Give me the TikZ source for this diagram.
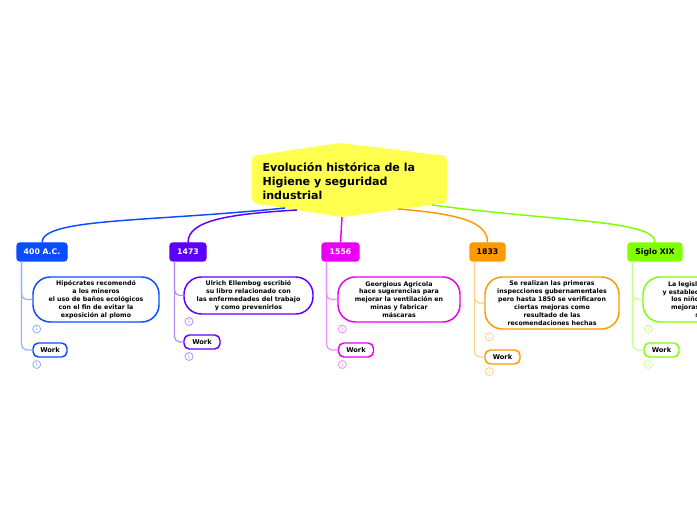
\documentclass[tikz,border=0pt]{standalone}
\usepackage{fontspec}
\setmainfont{DejaVu Sans}
\definecolor{azul}{RGB}{10,77,255}
\definecolor{violeta}{RGB}{92,0,255}
\definecolor{magenta}{RGB}{232,0,245}
\definecolor{naranja}{RGB}{255,153,0}
\definecolor{verde}{RGB}{128,255,0}
\definecolor{amarillo}{RGB}{255,255,80}

\begin{document}
\begin{tikzpicture}[x=.75pt,y=-.75pt,line width=.8pt,
  rama/.style={draw=#1,fill=#1,rounded corners=2pt,inner sep=0pt,minimum height=13.5pt,
    font=\bfseries\fontsize{5.8}{7}\selectfont},
  nota/.style={draw=#1,fill=white,line width=1.1pt,rounded corners=13pt,inner sep=0pt,
    align=center,font=\bfseries\fontsize{4.7}{5.9}\selectfont},
  trabajo/.style={draw=#1,fill=white,line width=1.1pt,rounded corners=4pt,inner sep=0pt,
    minimum height=10.5pt,font=\bfseries\fontsize{5}{6}\selectfont},
  marca/.style={circle,draw=#1!45,text=#1!45,line width=.6pt,minimum size=6pt,inner sep=0pt,
    font=\fontsize{3.8}{4}\selectfont},
  arbol/.style={draw=#1!45,line width=.9pt,rounded corners=4pt},
  enlace/.style={draw=#1,line width=1.1pt}]
\useasboundingbox (0,0) rectangle (697,520);
% Idée centrale : hexagone jaune aplati, texte aligné à gauche.
\fill[amarillo,rounded corners=3pt] (252,156) -- (340,143) -- (447,156) -- (447,203)
      -- (342,217) -- (252,203) -- cycle;
\node[anchor=west,align=left,inner sep=0pt,font=\bfseries\fontsize{8.3}{10.5}\selectfont] (hub) at (262,181)
  {Evolución histórica de la\\Higiene y seguridad\\industrial};
\coordinate (h1) at (285,208);
\coordinate (h2) at (297,210);
\coordinate (h3) at (342,217);
\coordinate (h4) at (398,209);
\coordinate (h5) at (432,205);
% Branches principales : dates sur fond plein.
\node[rama=azul,text=white,minimum width=37.5pt] (b1) at (42,252) {400 A.C.};
\node[rama=violeta,text=white,minimum width=27pt] (b2) at (188,252) {1473};
\node[rama=magenta,text=white,minimum width=27.75pt] (b3) at (340.5,252) {1556};
\node[rama=naranja,text=black,minimum width=26.25pt] (b4) at (487.5,252) {1833};
\node[rama=verde,text=black,minimum width=40.5pt] (b5) at (655,252) {Siglo XIX};
\draw[enlace=azul] (h1) .. controls (150,222) and (42,218) .. (b1.north);
\draw[enlace=violeta] (h2) .. controls (230,214) and (188,220) .. (b2.north);
\draw[enlace=magenta] (h3) -- (b3.north);
\draw[enlace=naranja] (h4) .. controls (460,214) and (487.5,222) .. (b4.north);
\draw[enlace=verde] (h5) .. controls (560,222) and (655,220) .. (b5.north);
% Notes en pilule et sous-branche « Work ».
\node[nota=azul,minimum width=94.5pt,minimum height=33.75pt] (d1) at (96,299.5)
  {Hipócrates recomendó\\a los mineros\\el uso de baños ecológicos\\con el fin de evitar la\\exposición al plomo};
\node[nota=violeta,minimum width=96.75pt,minimum height=27.75pt] (d2) at (248.5,295.5)
  {Ulrich Ellembog escribió\\su libro relacionado con\\las enfermedades del trabajo\\y como prevenirlos};
\node[nota=magenta,minimum width=91.5pt,minimum height=33.75pt] (d3) at (399,299.5)
  {Georgious Agricola\\hace sugerencias para\\mejorar la ventilación en\\minas y fabricar\\máscaras};
\node[nota=naranja,minimum width=100.5pt,minimum height=39pt] (d4) at (552,303)
  {Se realizan las primeras\\inspecciones gubernamentales\\pero hasta 1850 se verificaron\\ciertas mejoras como\\resultado de las\\recomendaciones hechas};
\node[nota=verde,minimum width=93.75pt,minimum height=33.75pt] (d5) at (705.5,299.5)
  {La legislación laboral\\y establecieron leyes de\\los niños y mujeres\\mejoras en la salud\\social};
\node[trabajo=azul,minimum width=25.5pt] (w1) at (50,350) {Work};
\node[trabajo=violeta,minimum width=27pt] (w2) at (202,342) {Work};
\node[trabajo=magenta,minimum width=26.25pt] (w3) at (356,350) {Work};
\node[trabajo=naranja,minimum width=26.25pt] (w4) at (502.5,357) {Work};
\node[trabajo=verde,minimum width=26.25pt] (w5) at (661.5,350) {Work};
\draw[arbol=azul] ([xshift=3.75pt]b1.south west) |- (d1.west);
\draw[arbol=azul] ([xshift=3.75pt]b1.south west) |- (w1.west);
\draw[arbol=violeta] ([xshift=3.75pt]b2.south west) |- (d2.west);
\draw[arbol=violeta] ([xshift=3.75pt]b2.south west) |- (w2.west);
\draw[arbol=magenta] ([xshift=3.75pt]b3.south west) |- (d3.west);
\draw[arbol=magenta] ([xshift=3.75pt]b3.south west) |- (w3.west);
\draw[arbol=naranja] ([xshift=3.75pt]b4.south west) |- (d4.west);
\draw[arbol=naranja] ([xshift=3.75pt]b4.south west) |- (w4.west);
\draw[arbol=verde] ([xshift=3.75pt]b5.south west) |- (d5.west);
\draw[arbol=verde] ([xshift=3.75pt]b5.south west) |- (w5.west);
% Petits compteurs sous chaque note.
\node[marca=azul] (m1) at (36.7,329) {1};
\node[marca=azul] (n1) at (36.7,364.5) {1};
\node[marca=violeta] (m2) at (189,321.5) {1};
\node[marca=violeta] (n2) at (189,356.5) {1};
\node[marca=magenta] (m3) at (342.3,329) {1};
\node[marca=magenta] (n3) at (342.3,364.5) {1};
\node[marca=naranja] (m4) at (489.3,336.7) {1};
\node[marca=naranja] (n4) at (489.3,371.5) {1};
\node[marca=verde] (m5) at (648.3,329) {1};
\node[marca=verde] (n5) at (648.3,364.5) {1};
\end{tikzpicture}
\end{document}
